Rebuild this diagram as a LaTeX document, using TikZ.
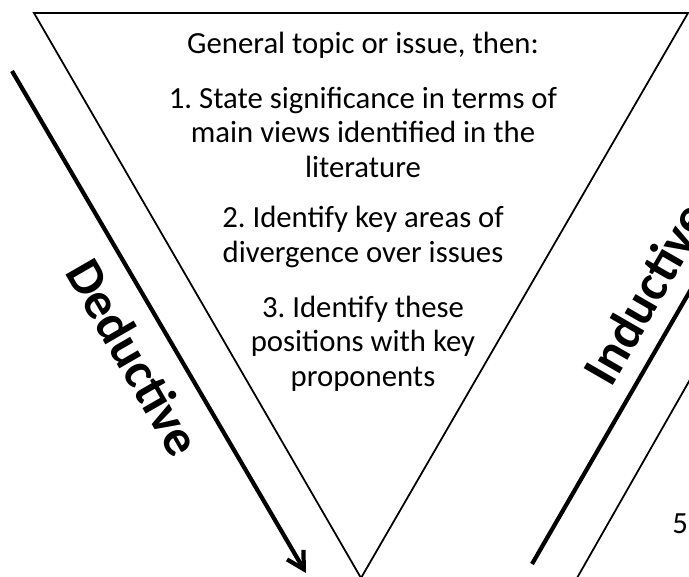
\documentclass[tikz,border=0pt]{standalone}
\usepackage{fontspec}
\setmainfont{Carlito}
\usetikzlibrary{arrows.meta}

\tikzset{
	side/.style={line width=1pt, line join=miter},
	bigline/.style={line width=2.4pt},
	stepnote/.style={align=center, inner sep=0pt, anchor=base, font=\fontsize{17.5pt}{19.4pt}\selectfont\frenchspacing},
	waylabel/.style={inner sep=0pt, anchor=base west, font=\fontsize{29.5pt}{34pt}\selectfont\bfseries}
}

\begin{document}
\begin{tikzpicture}[x=0.02cm, y=-0.02cm]
	\useasboundingbox (0,0) rectangle (689,576);
	\clip (0,0) rectangle (689,576);

	\coordinate (tl) at (34,13);
	\coordinate (tr) at (688,13);
	\coordinate (apex) at (361,578);
	\coordinate (dedtop) at (12,71);
	\coordinate (dedtip) at (306,573);
	\coordinate (indfoot) at (532,564);
	\coordinate (indtop) at (760,170);
	\coordinate (nextfoot) at (577,578);
	\coordinate (nexttop) at (700,362);

	\draw[side] (tl) -- (tr) -- (apex) -- cycle;
	\draw[side] (nextfoot) -- (nexttop);
	\draw[bigline, -{Straight Barb[length=0.34cm, width=0.38cm]}] (dedtop) -- (dedtip);
	\draw[bigline] (indfoot) -- (indtop);

	% multi-line notes sit on the baseline of their last line
	\node[stepnote] (topic) at (363,53) {General topic or issue, then:};
	\node[stepnote] (views) at (363,177) {1. State significance in terms of\\main views identified in the\\literature};
	\node[stepnote] (divergence) at (363,262) {2. Identify key areas of\\divergence over issues};
	\node[stepnote] (proponents) at (363,386) {3. Identify these\\positions with key\\proponents};
	\node[stepnote, anchor=base west] (fifth) at (672,533) {5.};

	\node[waylabel, rotate=-60] (deductive) at (64,272) {Deductive};
	\node[waylabel, rotate=60] (inductive) at (611,389) {Inductive};
\end{tikzpicture}
\end{document}
